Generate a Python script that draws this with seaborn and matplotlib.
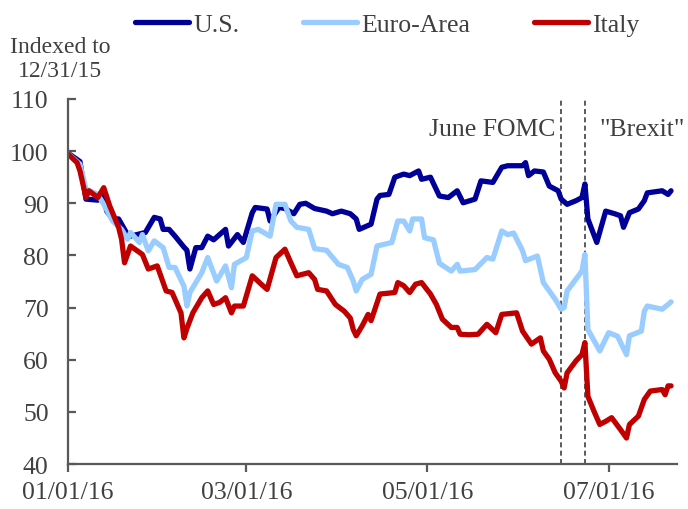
import pandas as pd
import matplotlib.pyplot as plt
import matplotlib.dates as mdates
import seaborn as sns

# bank equity indices, indexed to 12/31/15
us_dates = ['2015-12-31', '2016-01-05', '2016-01-07', '2016-01-11', '2016-01-13', '2016-01-14',
            '2016-01-16', '2016-01-18', '2016-01-21', '2016-01-22', '2016-01-27', '2016-01-30',
            '2016-02-01', '2016-02-02', '2016-02-04', '2016-02-06', '2016-02-09', '2016-02-10',
            '2016-02-11', '2016-02-13', '2016-02-15', '2016-02-17', '2016-02-19', '2016-02-23',
            '2016-02-24', '2016-02-27', '2016-02-29', '2016-03-03', '2016-03-04', '2016-03-08',
            '2016-03-09', '2016-03-12', '2016-03-14', '2016-03-17', '2016-03-19', '2016-03-21',
            '2016-03-24', '2016-03-28', '2016-03-30', '2016-04-02', '2016-04-05', '2016-04-07',
            '2016-04-08', '2016-04-12', '2016-04-14', '2016-04-15', '2016-04-18', '2016-04-20',
            '2016-04-23', '2016-04-25', '2016-04-28', '2016-04-29', '2016-05-02', '2016-05-05',
            '2016-05-08', '2016-05-11', '2016-05-13', '2016-05-17', '2016-05-19', '2016-05-23',
            '2016-05-26', '2016-05-28', '2016-06-02', '2016-06-03', '2016-06-04', '2016-06-06',
            '2016-06-09', '2016-06-11', '2016-06-14', '2016-06-15', '2016-06-17', '2016-06-20',
            '2016-06-22', '2016-06-23', '2016-06-24', '2016-06-27', '2016-06-30', '2016-07-03',
            '2016-07-05', '2016-07-06', '2016-07-08', '2016-07-11', '2016-07-13', '2016-07-14',
            '2016-07-19', '2016-07-21', '2016-07-22']
us_values = [100.0, 98.0, 90.8, 90.6, 91.4, 88.5,
             87.0, 87.0, 84.0, 83.7, 84.4, 87.3,
             87.0, 85.0, 85.0, 83.7, 81.6, 81.0,
             77.4, 81.5, 81.5, 83.7, 83.0, 85.0,
             81.8, 84.0, 82.5, 88.2, 89.2, 88.9,
             86.6, 89.2, 89.0, 88.0, 89.8, 90.0,
             89.0, 88.5, 88.0, 88.5, 88.0, 87.0,
             85.0, 86.0, 90.8, 91.5, 91.7, 95.0,
             95.6, 95.3, 96.2, 94.6, 95.0, 91.4,
             91.1, 92.4, 90.1, 90.8, 94.3, 94.0,
             96.9, 97.2, 97.2, 97.8, 95.3, 96.2,
             96.0, 93.3, 92.4, 90.8, 89.8, 90.5,
             91.1, 93.7, 87.0, 82.5, 88.5, 88.0,
             87.6, 85.4, 88.2, 88.9, 90.5, 92.0,
             92.4, 91.7, 92.4]

euro_dates = ['2015-12-31', '2016-01-05', '2016-01-07', '2016-01-11', '2016-01-13', '2016-01-16',
              '2016-01-19', '2016-01-21', '2016-01-22', '2016-01-25', '2016-01-26', '2016-01-28',
              '2016-01-30', '2016-02-02', '2016-02-04', '2016-02-06', '2016-02-09', '2016-02-10',
              '2016-02-11', '2016-02-15', '2016-02-17', '2016-02-20', '2016-02-23', '2016-02-25',
              '2016-02-26', '2016-03-01', '2016-03-03', '2016-03-05', '2016-03-09', '2016-03-11',
              '2016-03-14', '2016-03-16', '2016-03-18', '2016-03-22', '2016-03-24', '2016-03-28',
              '2016-04-01', '2016-04-04', '2016-04-06', '2016-04-07', '2016-04-09', '2016-04-12',
              '2016-04-14', '2016-04-19', '2016-04-21', '2016-04-23', '2016-04-25', '2016-04-26',
              '2016-04-29', '2016-04-30', '2016-05-03', '2016-05-05', '2016-05-09', '2016-05-11',
              '2016-05-12', '2016-05-17', '2016-05-21', '2016-05-23', '2016-05-26', '2016-05-28',
              '2016-05-30', '2016-06-02', '2016-06-03', '2016-06-07', '2016-06-09', '2016-06-13',
              '2016-06-15', '2016-06-16', '2016-06-17', '2016-06-22', '2016-06-23', '2016-06-24',
              '2016-06-28', '2016-07-01', '2016-07-04', '2016-07-07', '2016-07-08', '2016-07-12',
              '2016-07-13', '2016-07-14', '2016-07-19', '2016-07-21', '2016-07-22']
euro_values = [100.0, 97.5, 92.7, 91.7, 89.8, 86.6,
               85.0, 83.1, 84.4, 82.5, 84.0, 80.9,
               82.8, 81.5, 77.7, 77.7, 74.1, 70.3,
               72.9, 76.7, 79.6, 75.1, 78.0, 73.8,
               78.3, 79.6, 84.7, 85.0, 83.7, 89.8,
               89.8, 86.6, 85.4, 85.0, 81.3, 81.0,
               78.3, 77.7, 75.1, 73.2, 75.4, 76.4,
               81.8, 82.5, 86.6, 86.6, 84.7, 87.0,
               87.0, 83.4, 83.0, 78.5, 77.0, 78.3,
               77.0, 77.3, 79.6, 79.3, 84.7, 84.0,
               84.3, 80.9, 79.0, 79.9, 74.8, 71.6,
               69.7, 70.0, 73.2, 77.0, 80.2, 65.8,
               61.7, 65.2, 64.5, 61.0, 64.6, 65.5,
               69.3, 70.3, 69.7, 70.6, 71.1]

italy_dates = ['2015-12-31', '2016-01-04', '2016-01-05', '2016-01-07', '2016-01-08', '2016-01-11',
               '2016-01-13', '2016-01-15', '2016-01-18', '2016-01-19', '2016-01-20', '2016-01-22',
               '2016-01-25', '2016-01-26', '2016-01-28', '2016-01-31', '2016-02-03', '2016-02-05',
               '2016-02-08', '2016-02-09', '2016-02-10', '2016-02-11', '2016-02-12', '2016-02-15',
               '2016-02-17', '2016-02-19', '2016-02-21', '2016-02-23', '2016-02-25', '2016-02-26',
               '2016-02-29', '2016-03-03', '2016-03-06', '2016-03-08', '2016-03-11', '2016-03-14',
               '2016-03-16', '2016-03-18', '2016-03-22', '2016-03-24', '2016-03-25', '2016-03-28',
               '2016-03-31', '2016-04-03', '2016-04-05', '2016-04-06', '2016-04-07', '2016-04-09',
               '2016-04-11', '2016-04-12', '2016-04-15', '2016-04-20', '2016-04-21', '2016-04-23',
               '2016-04-25', '2016-04-27', '2016-04-29', '2016-05-02', '2016-05-04', '2016-05-06',
               '2016-05-09', '2016-05-11', '2016-05-12', '2016-05-15', '2016-05-18', '2016-05-21',
               '2016-05-24', '2016-05-26', '2016-05-31', '2016-06-02', '2016-06-05', '2016-06-08',
               '2016-06-09', '2016-06-11', '2016-06-13', '2016-06-15', '2016-06-16', '2016-06-17',
               '2016-06-20', '2016-06-22', '2016-06-23', '2016-06-24', '2016-06-26', '2016-06-28',
               '2016-06-30', '2016-07-02', '2016-07-05', '2016-07-07', '2016-07-08', '2016-07-11',
               '2016-07-13', '2016-07-15', '2016-07-19', '2016-07-20', '2016-07-21', '2016-07-22']
italy_values = [100.0, 97.8, 96.2, 91.1, 92.4, 91.1,
                93.0, 89.5, 85.4, 83.1, 78.6, 81.8,
                80.6, 80.2, 77.4, 78.0, 73.2, 72.9,
                69.0, 64.2, 66.0, 67.5, 69.0, 71.9,
                73.2, 70.6, 71.0, 71.9, 69.0, 70.3,
                70.3, 76.1, 74.5, 73.5, 79.6, 81.2,
                78.6, 76.1, 76.7, 75.4, 73.5, 73.2,
                70.6, 69.3, 68.0, 65.8, 64.6, 66.5,
                68.7, 67.5, 72.6, 72.9, 74.8, 74.2,
                72.9, 74.5, 74.8, 72.6, 70.6, 67.8,
                66.2, 66.2, 64.9, 64.8, 64.9, 66.8,
                65.2, 68.7, 69.0, 65.5, 63.0, 64.2,
                61.7, 60.1, 57.5, 55.9, 54.6, 57.5,
                59.8, 61.0, 63.3, 53.0, 50.2, 47.6,
                48.2, 48.9, 46.6, 45.0, 47.6, 49.2,
                52.4, 54.0, 54.3, 53.3, 55.0, 55.0]

series_names = ['U.S.', 'Euro-Area', 'Italy']
series_colors = ['#000099', '#99CCFF', '#C00000']
tick_dates = ['2016-01-01', '2016-03-01', '2016-05-01', '2016-07-01']
event_dates = ['2016-06-15', '2016-06-23']
event_labels = ['June FOMC', '"Brexit"']

frames = []
for name, d, v in zip(series_names, [us_dates, euro_dates, italy_dates],
                      [us_values, euro_values, italy_values]):
    frames.append(pd.DataFrame({'date': pd.to_datetime(d), 'value': v, 'series': name}))
df = pd.concat(frames, ignore_index=True)

sns.set_style('white')
plt.rcParams['font.family'] = ['Liberation Serif', 'DejaVu Serif']
text_color = '#404040'
axis_color = '#595959'

fig = plt.figure(figsize=(6.88, 5.1), dpi=100)
ax = fig.add_axes([0.099, 0.088, 0.885, 0.716])

sns.lineplot(data=df, x='date', y='value', hue='series', hue_order=series_names,
             palette=dict(zip(series_names, series_colors)), estimator=None,
             linewidth=3.8, ax=ax, legend=False)

for d in event_dates:
    ax.axvline(pd.Timestamp(d), color='#404040', linestyle=(0, (3, 2)), linewidth=1.2, zorder=1)

ax.text(pd.Timestamp(event_dates[0]) - pd.Timedelta(days=2), 104.2, event_labels[0],
        ha='right', va='center', fontsize=18.5, color=text_color)
ax.text(pd.Timestamp(event_dates[1]) + pd.Timedelta(days=5), 104.2, event_labels[1],
        ha='left', va='center', fontsize=18.5, color=text_color, clip_on=False)

ax.set_xlim(pd.Timestamp('2016-01-01'), pd.Timestamp('2016-07-24'))
ax.set_ylim(40, 110)
ax.set_yticks(range(40, 111, 10))
ax.set_xticks(pd.to_datetime(tick_dates))
ax.xaxis.set_major_formatter(mdates.DateFormatter('%m/%d/%y'))
ax.set_xlabel('')
ax.set_ylabel('')

for side in ['top', 'right']:
    ax.spines[side].set_visible(False)
for side in ['left', 'bottom']:
    ax.spines[side].set_color(axis_color)
    ax.spines[side].set_linewidth(1.6)

ax.tick_params(axis='y', direction='in', length=6, width=1.6, color=axis_color,
               labelsize=18.5, labelcolor=text_color, pad=14, left=True)
ax.tick_params(axis='x', direction='out', length=6, width=1.6, color=axis_color,
               labelsize=18.5, labelcolor=text_color, pad=6, bottom=True)

fig.text(0.087, 0.883, 'Indexed to\n12/31/15', ha='center', va='center',
         fontsize=17, color=text_color, linespacing=1.15)

handles = ax.get_lines()[:3]
fig.legend(handles, series_names, loc='center', bbox_to_anchor=(0.563, 0.95), ncol=3,
           frameon=False, fontsize=18.5, handlelength=2.1, handletextpad=0.15,
           columnspacing=2.5, labelcolor=text_color)

fig.savefig('out.png', dpi=100)
